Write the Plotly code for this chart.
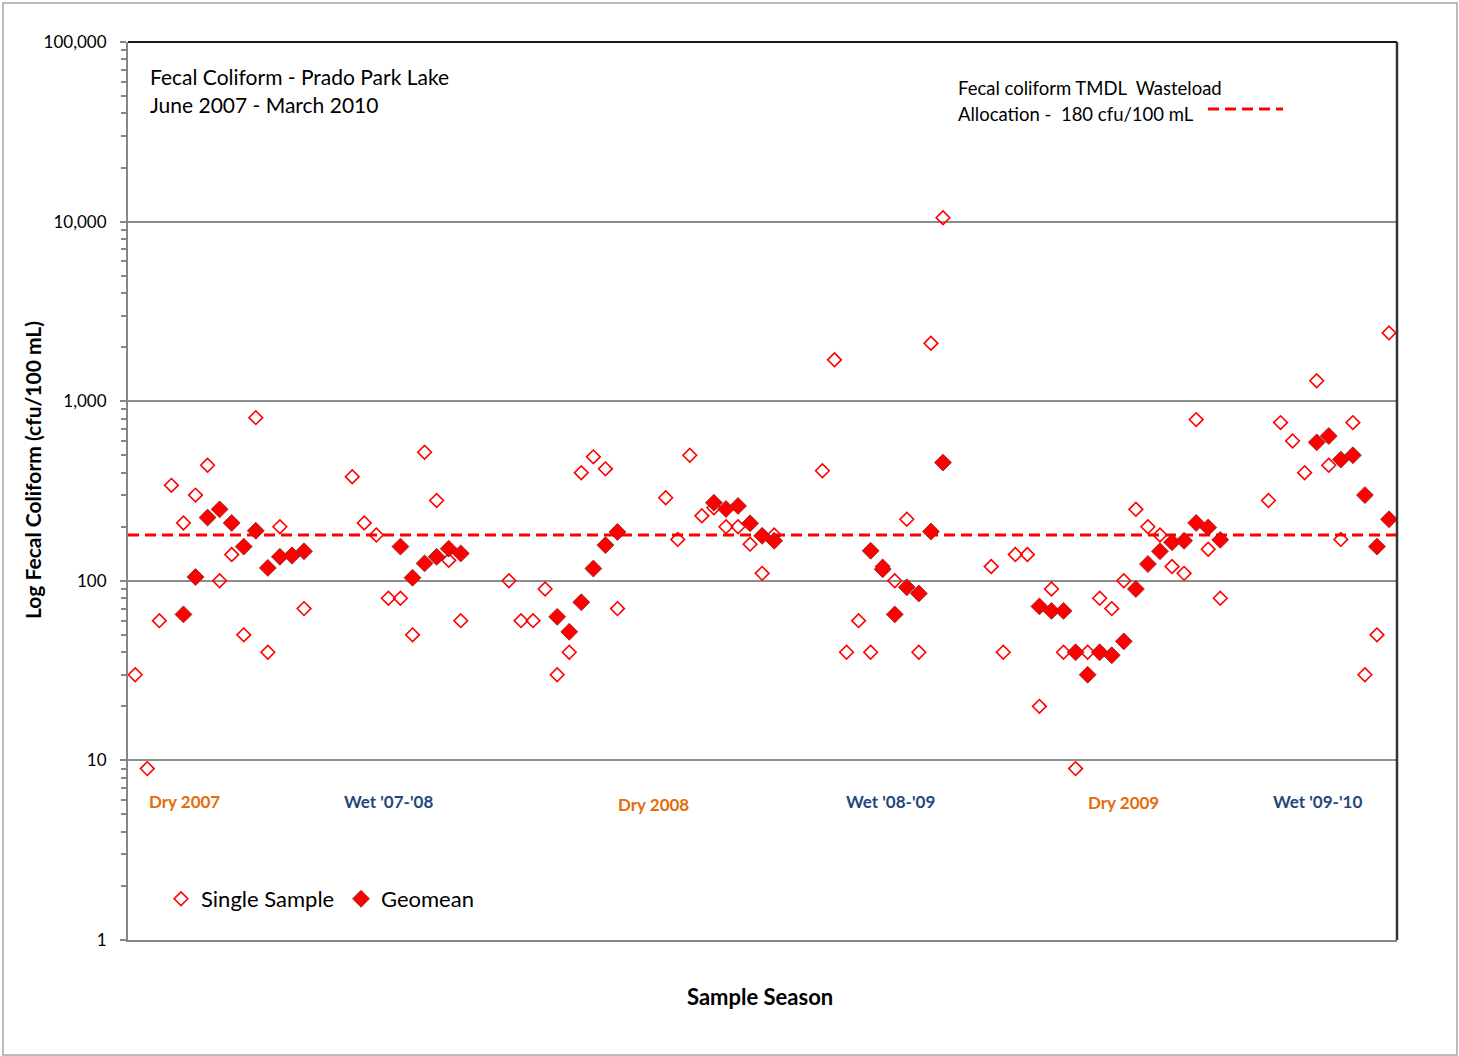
import math
import plotly.graph_objects as go

# Sample sequence number (gaps separate the sampling seasons)
single_x = [0, 1, 2, 3, 4, 5, 6, 7, 8, 9, 10, 11, 12, 13, 14,
            18, 19, 20, 21, 22, 23, 24, 25, 26, 27,
            31, 32, 33, 34, 35, 36, 37, 38, 39, 40,
            44, 45, 46, 47, 48, 49, 50, 51, 52, 53,
            57, 58, 59, 60, 61, 62, 63, 64, 65, 66, 67,
            71, 72, 73, 74, 75, 76, 77, 78, 79, 80, 81, 82, 83, 84, 85, 86, 87, 88, 89, 90,
            94, 95, 96, 97, 98, 99, 100, 101, 102, 103, 104]
single_y = [30, 9, 60, 340, 210, 300, 440, 100, 140, 50, 810, 40, 200, 140, 70,
            380, 210, 180, 80, 80, 50, 520, 280, 130, 60,
            100, 60, 60, 90, 30, 40, 400, 490, 420, 70,
            290, 170, 500, 230, 255, 200, 200, 160, 110, 180,
            410, 1700, 40, 60, 40, 120, 100, 220, 40, 2100, 10500,
            120, 40, 140, 140, 20, 90, 40, 9, 40, 80, 70, 100, 250, 200, 180, 120, 110, 790, 150, 80,
            280, 760, 600, 400, 1300, 440, 170, 760, 30, 50, 2400]

geomean_x = [4, 5, 6, 7, 8, 9, 10, 11, 12, 13, 14,
             22, 23, 24, 25, 26, 27,
             35, 36, 37, 38, 39, 40,
             48, 49, 50, 51, 52, 53,
             61, 62, 63, 64, 65, 66, 67,
             75, 76, 77, 78, 79, 80, 81, 82, 83, 84, 85, 86, 87, 88, 89, 90,
             98, 99, 100, 101, 102, 103, 104]
geomean_y = [65, 105, 225, 250, 210, 155, 190, 118, 136, 138, 146,
             155, 104, 125, 136, 151, 142,
             63, 52, 76, 117, 158, 187,
             272, 251, 261, 209, 178, 167,
             147, 116, 65, 92, 85, 188, 455,
             72, 68, 68, 40, 30, 40, 38.5, 46, 90, 124, 146, 164, 167, 210, 198, 169,
             590, 640, 473, 500, 300, 155, 220]

tmdl_limit = 180
x_span = [-0.6, 104.66]

y_tickvals = [1, 10, 100, 1000, 10000, 100000]
y_ticktext = ["1", "10", "100", "1,000", "10,000", "100,000"]

seasons = ["Dry 2007", "Wet '07-'08", "Dry 2008", "Wet '08-'09", "Dry 2009", "Wet '09-'10"]
season_colors = ["#E46C0A", "#1F497D", "#E46C0A", "#1F497D", "#E46C0A", "#1F497D"]

FONT = "Lato, 'Open Sans', sans-serif"
W, H = 1459, 1056
L, R, T, B = 128, 1397, 42, 940


def px_x(p):
    return (p - L) / (R - L)


def px_y(p):
    return (B - p) / (B - T)


fig = go.Figure()

fig.add_trace(go.Scatter(
    x=x_span, y=[tmdl_limit, tmdl_limit], mode="lines",
    line=dict(color="#FF0000", width=3, dash="11px,6px"),
    showlegend=False, hoverinfo="skip"))

fig.add_trace(go.Scatter(
    x=single_x, y=single_y, mode="markers", name="Single Sample",
    marker=dict(symbol="diamond-open", size=10.5, color="#FF0000",
                line=dict(color="#FF0000", width=1.6))))

fig.add_trace(go.Scatter(
    x=geomean_x, y=geomean_y, mode="markers", name="Geomean",
    marker=dict(symbol="diamond", size=13, color="#FF0000",
                line=dict(color="rgba(140,40,40,0.85)", width=1))))

annotations = []
# chart title block
annotations.append(dict(x=px_x(148), y=px_y(77), xref="paper", yref="paper",
                        text="Fecal Coliform - Prado Park Lake", showarrow=False,
                        xanchor="left", yanchor="middle",
                        font=dict(family=FONT, size=21, color="#000")))
annotations.append(dict(x=px_x(148), y=px_y(105), xref="paper", yref="paper",
                        text="June 2007 - March 2010", showarrow=False,
                        xanchor="left", yanchor="middle",
                        font=dict(family=FONT, size=21, color="#000")))
# TMDL legend text
annotations.append(dict(x=px_x(956), y=px_y(88), xref="paper", yref="paper",
                        text="Fecal coliform TMDL  Wasteload", showarrow=False,
                        xanchor="left", yanchor="middle",
                        font=dict(family=FONT, size=18.5, color="#000")))
annotations.append(dict(x=px_x(956), y=px_y(114), xref="paper", yref="paper",
                        text="Allocation -  180 cfu/100 mL", showarrow=False,
                        xanchor="left", yanchor="middle",
                        font=dict(family=FONT, size=18.5, color="#000")))
# season labels
season_px = [(184, 801), (388, 801), (653, 804), (890, 801), (1123, 802), (1317, 801)]
for name, col, (sx, sy) in zip(seasons, season_colors, season_px):
    annotations.append(dict(x=px_x(sx), y=px_y(sy), xref="paper", yref="paper",
                            text="<b>%s</b>" % name, showarrow=False,
                            xanchor="center", yanchor="middle",
                            font=dict(family=FONT, size=17, color=col)))
# axis titles
annotations.append(dict(x=px_x(32), y=px_y(470), xref="paper", yref="paper",
                        text="<b>Log Fecal Coliform (cfu/100 mL)</b>", showarrow=False,
                        textangle=-90, xanchor="center", yanchor="middle",
                        font=dict(family=FONT, size=21, color="#000")))
annotations.append(dict(x=px_x(760), y=px_y(996), xref="paper", yref="paper",
                        text="<b>Sample Season</b>", showarrow=False,
                        xanchor="center", yanchor="middle",
                        font=dict(family=FONT, size=22, color="#000")))

shapes = [
    # outer chart border
    dict(type="rect", xref="paper", yref="paper",
         x0=px_x(3), x1=px_x(1457), y0=px_y(1055), y1=px_y(3),
         line=dict(color="#A6A6A6", width=1.5), layer="below"),
    # dark top and right frame of the plot area
    dict(type="line", xref="paper", yref="paper", x0=0, x1=1, y0=1, y1=1,
         line=dict(color="#1A1A1A", width=2)),
    dict(type="line", xref="paper", yref="paper", x0=1, x1=1, y0=0, y1=1,
         line=dict(color="#333333", width=2.5)),
    # TMDL legend key
    dict(type="line", xref="paper", yref="paper",
         x0=px_x(1208), x1=px_x(1283), y0=px_y(109), y1=px_y(109),
         line=dict(color="#FF0000", width=3, dash="11px,6px")),
]

fig.update_layout(
    width=W, height=H,
    margin=dict(l=L, r=W - R, t=T, b=H - B, pad=0),
    paper_bgcolor="white", plot_bgcolor="white",
    font=dict(family=FONT, color="#000"),
    annotations=annotations, shapes=shapes,
    legend=dict(orientation="h", x=px_x(161), y=px_y(899), xanchor="left", yanchor="middle",
                font=dict(family=FONT, size=22, color="#000"),
                entrywidth=135, entrywidthmode="pixels",
                bgcolor="rgba(0,0,0,0)", itemclick=False),
    showlegend=True,
)

fig.update_xaxes(range=x_span, showgrid=False, zeroline=False,
                 showline=True, linecolor="#868686", linewidth=2,
                 showticklabels=False, ticks="")

fig.update_yaxes(type="log", range=[0, 5], tickvals=y_tickvals, ticktext=y_ticktext,
                 showgrid=True, gridcolor="#8C8C8C", gridwidth=1.5,
                 showline=True, linecolor="#868686", linewidth=2,
                 ticks="outside", ticklen=6, tickcolor="#868686", tickwidth=1.5,
                 ticklabelstandoff=10, zeroline=False,
                 tickfont=dict(family=FONT, size=17, color="#000"),
                 minor=dict(ticks="outside", ticklen=5, tickcolor="#868686",
                            tickwidth=1.5, dtick="D1", showgrid=False))

fig.write_html("out.html")
